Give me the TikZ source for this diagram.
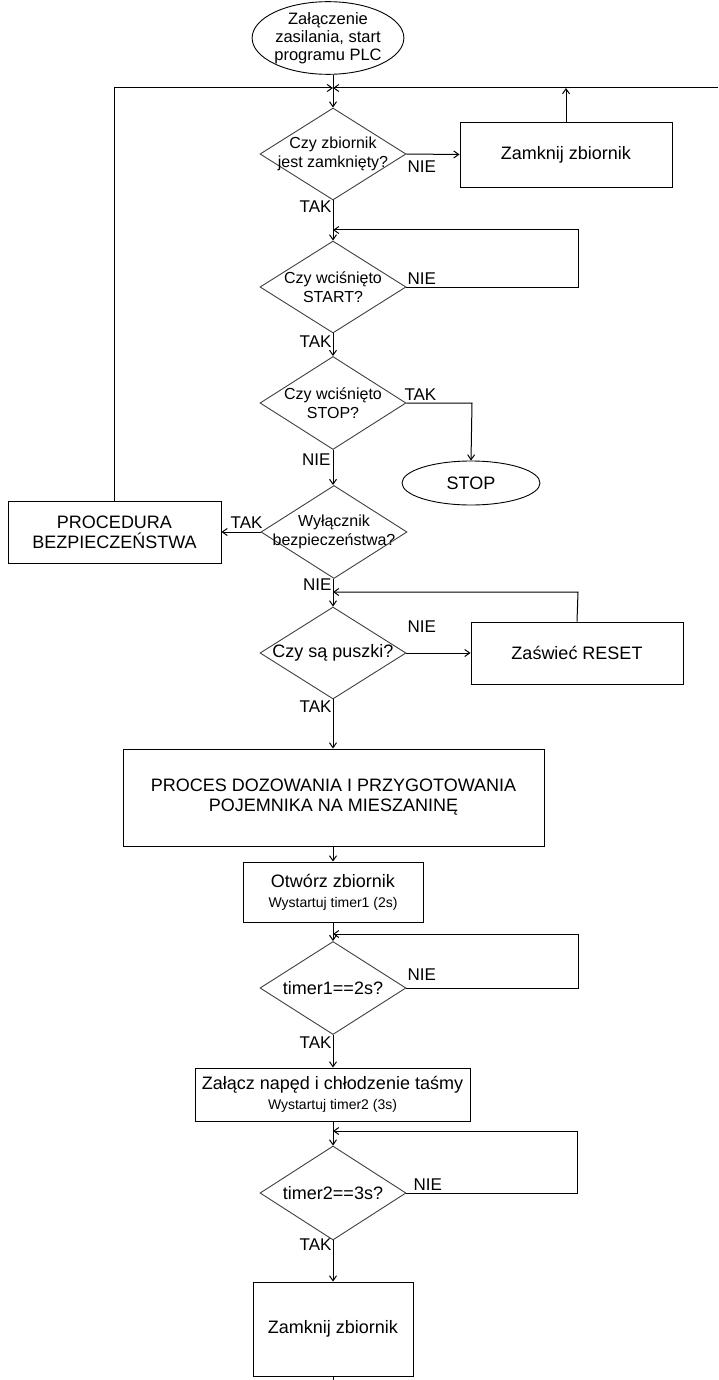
\documentclass[tikz,border=0pt]{standalone}
\usepackage{fontspec}
\setmainfont{Liberation Sans}
\usetikzlibrary{shapes.geometric,arrows.meta}
\begin{document}
\begin{tikzpicture}[x=1pt,y=-1pt,
  line width=1pt,
  arr/.style={-{Straight Barb[length=5pt,width=7pt]}},
  box/.style={draw, line width=0.9pt, rectangle, inner sep=0pt, align=center, font=\fontsize{18}{20}\selectfont},
  oval/.style={draw, ellipse, line width=0.9pt, inner sep=0pt, align=center},
  dia/.style={draw=black!75, diamond, line width=0.9pt, inner sep=0pt, minimum width=146pt},
  dtext/.style={inner sep=0pt, align=center, font=\fontsize{16}{19}\selectfont},
  dtextb/.style={inner sep=0pt, align=center, font=\fontsize{18}{20}\selectfont},
  lab/.style={inner sep=0pt, font=\fontsize{17}{19}\selectfont}
]
\useasboundingbox (0,0) rectangle (718,1380);
\fill[white] (0,0) rectangle (718,1380);

% start
\node[oval, minimum width=146pt, minimum height=68pt, font=\fontsize{16.5}{18}\selectfont] (start) at (328,38) {Załączenie\\zasilania, start\\programu PLC};
\coordinate (j) at (333,88);
\coordinate (redge) at (718,88);

% decisions
\node[dia, minimum height=92pt] (d1) at (333,154) {};
\node[dtext] (d1t) at (d1) {Czy zbiornik\\jest zamknięty?};
\node[dia, minimum height=92pt] (d2) at (333,287) {};
\node[dtext] (d2t) at (d2) {Czy wciśnięto\\START?};
\node[dia, minimum height=93pt] (d3) at (333,403) {};
\node[dtext] (d3t) at (d3) {Czy wciśnięto\\STOP?};
\node[dia, minimum height=93pt] (d4) at (334,532) {};
\node[dtext] (d4t) at (d4) {Wyłącznik\\bezpieczeństwa?};
\node[dia, minimum height=92pt] (d5) at (333,653) {};
\node[dtextb] (d5t) at (d5) {Czy są puszki?};
\node[dia, minimum height=93pt] (d6) at (333,988) {};
\node[dtextb] (d6t) at (d6) {timer1==2s?};
\node[dia, minimum height=94pt] (d7) at (333,1193) {};
\node[dtextb] (d7t) at (d7) {timer2==3s?};

% boxes
\node[box, minimum width=212pt, minimum height=65pt] (zb1) at (566,154.5) {Zamknij zbiornik};
\node[oval, minimum width=138pt, minimum height=44pt, font=\fontsize{18}{20}\selectfont] (stop) at (471,483) {STOP};
\node[box, minimum width=213pt, minimum height=62pt] (proc) at (114.5,532) {PROCEDURA\\BEZPIECZEŃSTWA};
\node[box, minimum width=212pt, minimum height=62pt] (reset) at (577,653) {Zaświeć RESET};
\node[box, minimum width=421pt, minimum height=97pt] (big) at (333.5,797.5) {PROCES DOZOWANIA I PRZYGOTOWANIA\\POJEMNIKA NA MIESZANINĘ};
\node[box, minimum width=180pt, minimum height=60pt] (otw) at (333,892) {Otwórz zbiornik\\{\fontsize{14}{16}\selectfont Wystartuj timer1 (2s)}};
\node[box, minimum width=275pt, minimum height=53pt] (zal) at (332.5,1094.5) {Załącz napęd i chłodzenie taśmy\\{\fontsize{14}{16}\selectfont Wystartuj timer2 (3s)}};
\node[box, minimum width=160pt, minimum height=94pt] (zb2) at (333,1329) {Zamknij zbiornik};
\coordinate (bot) at (333,1380);

% loop corners
\coordinate (c2) at (578,230);
\coordinate (c5) at (578,592);
\coordinate (c6) at (578,934);
\coordinate (c7) at (577,1131);
\coordinate (c3) at (472,403);

% connectors
\draw[arr] (start.south -| d1.north) -- (d1.north);
\draw[arr] (proc.north) -- (proc.north |- j) -- (j);
\draw[arr] (redge) -- (j);
\draw[arr] (zb1.north) -- (zb1.north |- j);
\draw[arr] (d1.east) -- (zb1.west);
\draw[arr] (d1.south) -- (d2.north);
\draw[arr] (d2.east) -| (c2) -- (c2 -| d2.north);
\draw[arr] (d2.south) -- (d3.north);
\draw[arr] (d3.east) -- (c3) -- (stop.north);
\draw[arr] (d3.south) -- (d4.north -| d3.south);
\draw[arr] (d4.west) -- (proc.east);
\draw[arr] (d4.south -| d5.north) -- (d5.north);
\draw[arr] (reset.north) -- (c5) -- (c5 -| d5.north);
\draw[arr] (d5.east) -- (reset.west);
\draw[arr] (d5.south) -- (big.north -| d5.south);
\draw[arr] (big.south -| otw.north) -- (otw.north);
\draw[arr] (otw.south) -- (d6.north);
\draw[arr] (d6.east) -| (c6) -- (c6 -| d6.north);
\draw[arr] (d6.south) -- (zal.north -| d6.south);
\draw[arr] (zal.south -| d7.north) -- (d7.north);
\draw[arr] (d7.east) -| (c7) -- (c7 -| d7.north);
\draw[arr] (d7.south) -- (zb2.north);
\draw (zb2.south) -- (bot);

% labels
\node[lab, anchor=west] (n1) at (407,167) {NIE};
\node[lab, anchor=east] (t1) at (332,207) {TAK};
\node[lab, anchor=west] (n2) at (407,279) {NIE};
\node[lab, anchor=east] (t2) at (332,342) {TAK};
\node[lab, anchor=west] (t3) at (404,395) {TAK};
\node[lab, anchor=east] (n3) at (331,460) {NIE};
\node[lab, anchor=east] (t4) at (263,523) {TAK};
\node[lab, anchor=east] (n4) at (332,585) {NIE};
\node[lab, anchor=west] (n5) at (407,627) {NIE};
\node[lab, anchor=east] (t5) at (332,707) {TAK};
\node[lab, anchor=west] (n6) at (407,975) {NIE};
\node[lab, anchor=east] (t6) at (332,1043) {TAK};
\node[lab, anchor=west] (n7) at (413,1185) {NIE};
\node[lab, anchor=east] (t7) at (332,1245) {TAK};
\end{tikzpicture}
\end{document}
